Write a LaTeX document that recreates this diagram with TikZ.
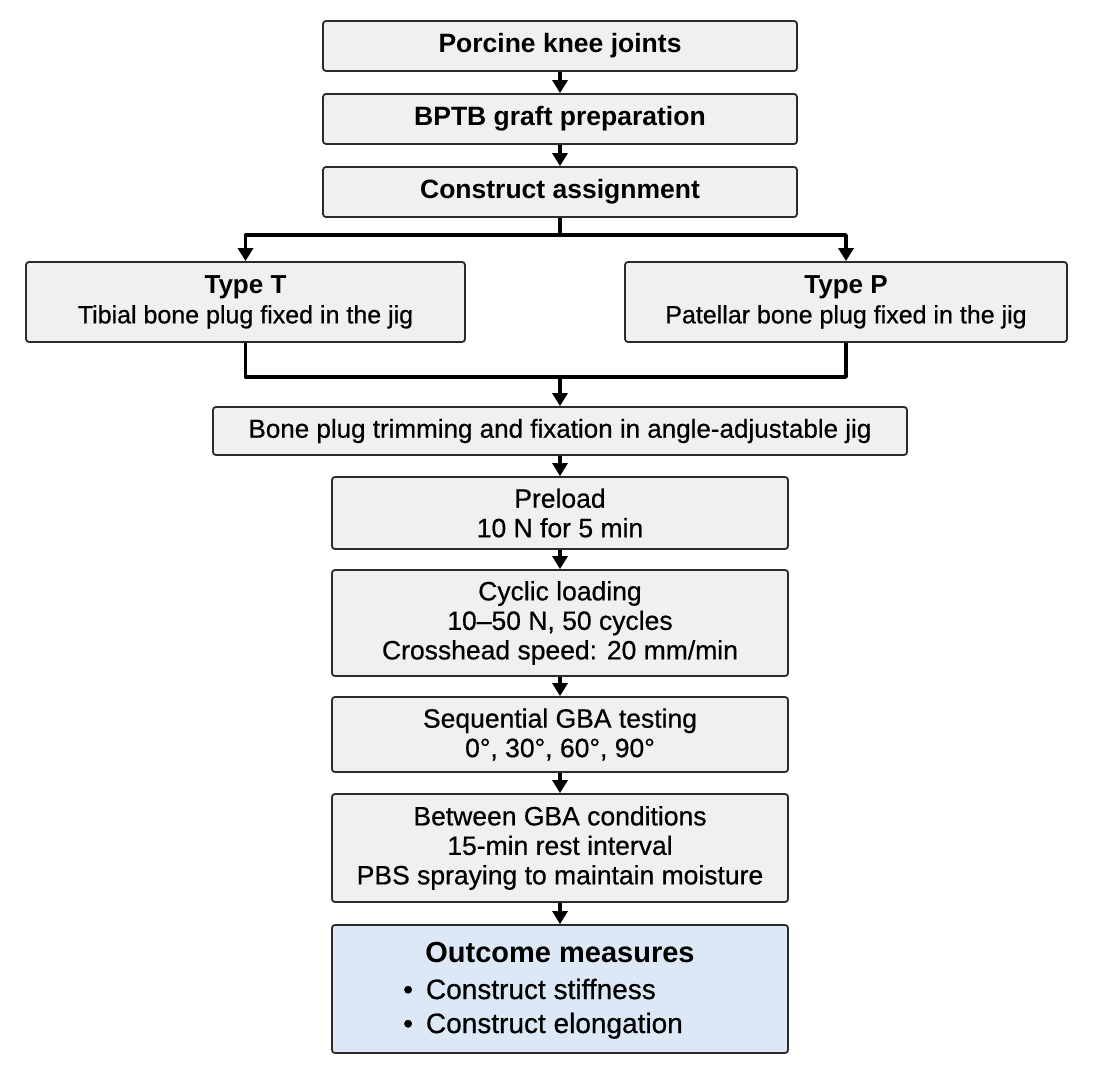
\documentclass[tikz,border=0pt]{standalone}
\usepackage{fontspec}
\setmainfont{Liberation Sans}
\newfontfamily\medfont{Liberation Sans}[FakeBold=0.6]
\usetikzlibrary{arrows.meta}
\definecolor{boxfill}{HTML}{F0F0F0}
\definecolor{outfill}{HTML}{DDE8F6}
\definecolor{edge}{HTML}{2B2B2B}
\begin{document}
\begin{tikzpicture}[x=1pt,y=-1pt,
  box/.style={draw=edge, line width=1.8pt, fill=boxfill, rounded corners=3pt,
    inner sep=0pt, align=center, text=black},
  topbox/.style={box, minimum width=474pt, minimum height=50pt,
    font=\bfseries\fontsize{26.5}{30}\selectfont},
  typebox/.style={box, minimum height=80pt, font=\medfont\fontsize{25}{30}\selectfont},
  lowbox/.style={box, minimum width=456pt, font=\medfont\fontsize{26.5}{29.5}\selectfont},
  ln/.style={line width=3.4pt, draw=black, line join=round},
  arr/.style={ln, -{Triangle[width=15pt,length=13pt]}}]
\useasboundingbox (0,0) rectangle (1106,1078);
\fill[white] (0,0) rectangle (1106,1078);

\node[topbox] (n1) at (560,46) {Porcine knee joints};
\node[topbox] (n2) at (560,119) {BPTB graft preparation};
\node[topbox] (n3) at (560,192) {Construct assignment};

\node[typebox, minimum width=439pt] (tT) at (245.5,302)
  {{\normalfont\bfseries\fontsize{26}{30}\selectfont Type T}\\Tibial bone plug fixed in the jig};
\node[typebox, minimum width=442pt] (tP) at (846,302)
  {{\normalfont\bfseries\fontsize{26}{30}\selectfont Type P}\\Patellar bone plug fixed in the jig};

\node[box, minimum width=694pt, minimum height=48pt, font=\medfont\fontsize{26}{30}\selectfont]
  (bp) at (560,431) {Bone plug trimming and fixation in angle-adjustable jig};

\node[lowbox, minimum height=72pt] (pl) at (560,513) {Preload\\10 N for 5 min};
\node[lowbox, minimum height=106pt] (cy) at (560,623)
  {Cyclic loading\\10–50 N, 50 cycles\\Crosshead speed: 20 mm/min};
\node[lowbox, minimum height=75pt] (sq) at (560,734.5)
  {Sequential GBA testing\\0°, 30°, 60°, 90°};
\node[lowbox, minimum height=108pt] (bw) at (560,848)
  {Between GBA conditions\\15-min rest interval\\PBS spraying to maintain moisture};
\node[lowbox, minimum height=128pt, fill=outfill] (out) at (560,989) {};
\node[anchor=base, font=\bfseries\fontsize{29}{34}\selectfont] (outt) at (560,962) {Outcome measures};
\node[anchor=base west, inner sep=0pt, font=\medfont\fontsize{28}{34}\selectfont] (ob1) at (403,999)
  {\textbullet\hspace{13pt}Construct stiffness};
\node[anchor=base west, inner sep=0pt, font=\medfont\fontsize{28}{34}\selectfont] (ob2) at (403,1033)
  {\textbullet\hspace{13pt}Construct elongation};

\draw[arr] (n1) -- (n2);
\draw[arr] (n2) -- (n3);
\coordinate (sp) at (560,235);
\draw[ln] (n3.south) -- (sp);
\draw[arr] (sp) -| (tT.north);
\draw[arr] (sp) -| (tP.north);
\coordinate (mg) at (560,377);
\draw[ln] (tT.south) |- (mg) -| (tP.south);
\draw[arr] (mg) -- (bp.north);
\draw[arr] (bp) -- (pl);
\draw[arr] (pl) -- (cy);
\draw[arr] (cy) -- (sq);
\draw[arr] (sq) -- (bw);
\draw[arr] (bw) -- (out);
\end{tikzpicture}
\end{document}
